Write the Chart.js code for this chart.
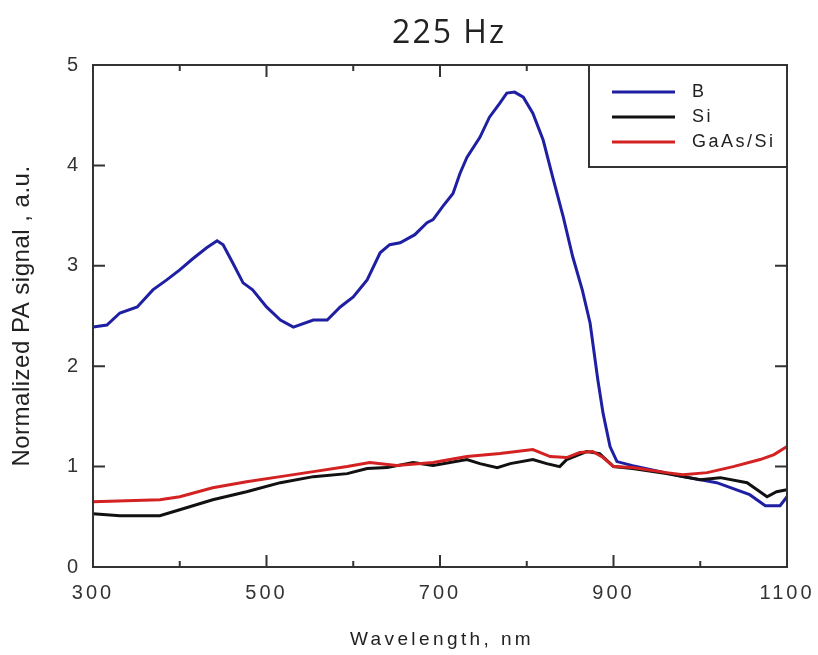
<!DOCTYPE html>
<html>
<head>
<meta charset="utf-8">
<title>225 Hz</title>
<script src="https://cdn.jsdelivr.net/npm/chart.js@4.4.1/dist/chart.umd.min.js"></script>
<style>
  html, body { margin: 0; padding: 0; background: #fff; }
  #wrap { width: 818px; height: 655px; }
</style>
</head>
<body>
<div id="wrap"><canvas id="paChart" width="818" height="655"></canvas></div>
<script>
  // Wavelength (nm) / normalized PA signal
  const bWave = [300, 316, 331, 351, 369, 385, 400, 415, 431, 443, 450, 461, 473, 484, 500, 516, 531, 554, 570, 585, 600, 616, 631, 642, 654, 671, 685, 692, 703, 715, 723, 731, 746, 757, 769, 777, 786, 796, 807, 819, 830, 842, 853, 864, 873, 882, 888, 896, 904, 922, 954, 980, 1019, 1057, 1075, 1092, 1100];
  const bSignal = [2.39, 2.41, 2.53, 2.59, 2.76, 2.86, 2.96, 3.07, 3.18, 3.25, 3.21, 3.03, 2.83, 2.76, 2.59, 2.46, 2.39, 2.46, 2.46, 2.59, 2.69, 2.86, 3.13, 3.21, 3.23, 3.31, 3.43, 3.46, 3.59, 3.72, 3.92, 4.08, 4.28, 4.48, 4.62, 4.72, 4.73, 4.68, 4.52, 4.25, 3.88, 3.49, 3.09, 2.76, 2.43, 1.86, 1.53, 1.20, 1.05, 1.01, 0.95, 0.90, 0.84, 0.72, 0.61, 0.61, 0.70];

  const siWave = [300, 331, 377, 400, 438, 477, 516, 554, 593, 616, 639, 669, 692, 731, 746, 766, 781, 807, 823, 838, 846, 869, 884, 900, 922, 961, 1000, 1023, 1054, 1077, 1088, 1100];
  const siSignal = [0.53, 0.51, 0.51, 0.57, 0.67, 0.75, 0.84, 0.90, 0.93, 0.98, 0.99, 1.04, 1.01, 1.07, 1.03, 0.99, 1.03, 1.07, 1.03, 1.00, 1.07, 1.15, 1.13, 1.00, 0.98, 0.93, 0.87, 0.89, 0.84, 0.70, 0.75, 0.77];

  const gaWave = [300, 377, 400, 438, 477, 516, 554, 593, 619, 650, 692, 731, 769, 807, 827, 846, 861, 876, 888, 900, 922, 961, 980, 1008, 1038, 1069, 1085, 1100];
  const gaSignal = [0.65, 0.67, 0.70, 0.79, 0.85, 0.90, 0.95, 1.00, 1.04, 1.01, 1.04, 1.10, 1.13, 1.17, 1.10, 1.09, 1.14, 1.15, 1.09, 1.00, 0.99, 0.94, 0.92, 0.94, 1.00, 1.07, 1.12, 1.20];

  const xMajorTicks = [300, 500, 700, 900, 1100];
  const xMinorTicks = [400, 600, 800, 1000];
  const yMajorTicks = [0, 1, 2, 3, 4, 5];

  const pts = (xs, ys) => xs.map((x, i) => ({ x: x, y: ys[i] }));

  // frame with inward ticks, legend box, titles
  const decorations = {
    id: 'decorations',
    beforeDraw(chart) {
      chart.ctx.letterSpacing = '3px';
    },
    afterDraw(chart) {
      const { ctx, chartArea: a, scales: { x, y } } = chart;
      ctx.save();
      ctx.strokeStyle = '#333';
      ctx.lineWidth = 2;
      ctx.beginPath();
      xMajorTicks.concat(xMinorTicks).forEach(v => {
        const px = x.getPixelForValue(v);
        const len = xMinorTicks.includes(v) ? 6 : 12;
        ctx.moveTo(px, a.bottom); ctx.lineTo(px, a.bottom - len);
        ctx.moveTo(px, a.top); ctx.lineTo(px, a.top + len);
      });
      yMajorTicks.forEach(v => {
        const py = y.getPixelForValue(v);
        ctx.moveTo(a.left, py); ctx.lineTo(a.left + 12, py);
        ctx.moveTo(a.right, py); ctx.lineTo(a.right - 12, py);
      });
      ctx.stroke();
      ctx.strokeRect(a.left, a.top, a.right - a.left, a.bottom - a.top);

      // legend
      const lx = a.right - 198;
      ctx.fillStyle = '#fff';
      ctx.fillRect(lx, a.top, a.right - lx, 102);
      ctx.strokeRect(lx, a.top, a.right - lx, 102);
      ctx.font = '18px "Liberation Sans", Arial, sans-serif';
      ctx.letterSpacing = '2.5px';
      ctx.textAlign = 'left';
      ctx.textBaseline = 'middle';
      [0, 1, 2].forEach(i => {
        const ds = chart.data.datasets[i];
        const ry = a.top + 27 + i * 25;
        ctx.strokeStyle = ds.borderColor;
        ctx.lineWidth = 3;
        ctx.beginPath();
        ctx.moveTo(lx + 23, ry); ctx.lineTo(lx + 86, ry);
        ctx.stroke();
        ctx.fillStyle = '#222';
        ctx.fillText(ds.label, lx + 103, ry);
      });

      // titles
      ctx.fillStyle = '#222';
      ctx.textAlign = 'center';
      ctx.font = '32px "Open Sans", sans-serif';
      ctx.letterSpacing = '2px';
      ctx.fillText('225 Hz', 449, 34);

      ctx.font = '19px "Liberation Sans", Arial, sans-serif';
      ctx.letterSpacing = '3.4px';
      ctx.fillText('Wavelength, nm', 442, 640);

      ctx.translate(22, 316);
      ctx.rotate(-Math.PI / 2);
      ctx.font = '24px "Liberation Sans", Arial, sans-serif';
      ctx.letterSpacing = '0.5px';
      ctx.fillText('Normalized PA signal , a.u.', 0, 0);
      ctx.restore();
    }
  };

  const tickFont = { family: '"Liberation Sans", Arial, sans-serif', size: 20 };

  const ctx = document.getElementById('paChart').getContext('2d');
  const paChart = new Chart(ctx, {
    type: 'line',
    data: {
      datasets: [
        { label: 'B', data: pts(bWave, bSignal), borderColor: '#1f1fa3', order: 3 },
        { label: 'Si', data: pts(siWave, siSignal), borderColor: '#111111', order: 2 },
        { label: 'GaAs/Si', data: pts(gaWave, gaSignal), borderColor: '#d42121', order: 1 }
      ]
    },
    options: {
      responsive: false,
      animation: false,
      events: [],
      elements: {
        line: { borderWidth: 3, tension: 0, fill: false },
        point: { radius: 0 }
      },
      layout: { padding: { top: 65, right: 31, left: 8, bottom: 0 } },
      scales: {
        x: {
          type: 'linear',
          min: 300, max: 1100,
          afterFit: s => { s.height = 88; s.paddingRight = 0; },
          afterBuildTicks: s => { s.ticks = xMajorTicks.map(v => ({ value: v })); },
          grid: { display: false, drawTicks: false },
          border: { display: false },
          ticks: { padding: 14, color: '#333', font: tickFont, callback: v => String(v) }
        },
        y: {
          min: 0, max: 5,
          afterFit: s => { s.width = 85; },
          afterBuildTicks: s => { s.ticks = yMajorTicks.map(v => ({ value: v })); },
          grid: { display: false, drawTicks: false },
          border: { display: false },
          ticks: { padding: 12, color: '#333', font: tickFont, callback: v => String(v) }
        }
      },
      plugins: {
        legend: { display: false },
        tooltip: { enabled: false },
        title: { display: false }
      }
    },
    plugins: [decorations]
  });
</script>
</body>
</html>
